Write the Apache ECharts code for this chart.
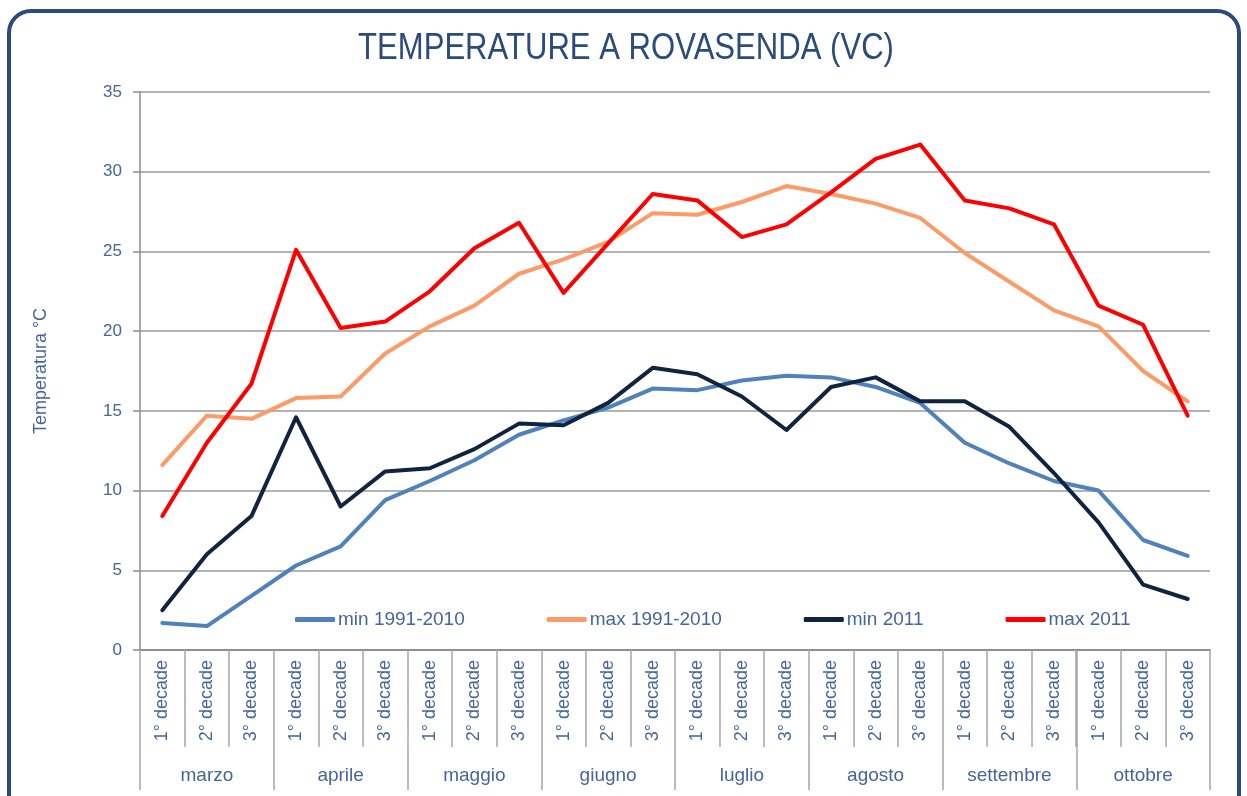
<!DOCTYPE html>
<html>
<head>
<meta charset="utf-8">
<script src="https://cdn.jsdelivr.net/npm/echarts@6/dist/echarts.min.js"></script>
<style>
  html, body { margin: 0; padding: 0; background: #fff; }
  #chart { position: absolute; left: 0; top: 0; width: 1247px; height: 796px; }
  #frame { position: absolute; left: 7px; top: 9px; width: 1226px; height: 820px;
           border: 4px solid #2b4b7c; border-radius: 24px; pointer-events: none; }
</style>
</head>
<body>
<div id="chart"></div>
<div id="frame"></div>
<script>
var chartTitle = 'TEMPERATURE A ROVASENDA (VC)';
var months = ['marzo', 'aprile', 'maggio', 'giugno', 'luglio', 'agosto', 'settembre', 'ottobre'];
var decades = ['1° decade', '2° decade', '3° decade'];

var minNorm = [1.7, 1.5, 3.4, 5.3, 6.5, 9.4, 10.6, 11.9, 13.5, 14.4, 15.2, 16.4,
               16.3, 16.9, 17.2, 17.1, 16.5, 15.5, 13.0, 11.7, 10.6, 10.0, 6.9, 5.9];
var maxNorm = [11.6, 14.7, 14.5, 15.8, 15.9, 18.6, 20.3, 21.6, 23.6, 24.5, 25.6, 27.4,
               27.3, 28.1, 29.1, 28.6, 28.0, 27.1, 24.9, 23.1, 21.3, 20.3, 17.5, 15.6];
var min2011 = [2.5, 6.0, 8.4, 14.6, 9.0, 11.2, 11.4, 12.6, 14.2, 14.1, 15.5, 17.7,
               17.3, 15.9, 13.8, 16.5, 17.1, 15.6, 15.6, 14.0, 11.1, 8.0, 4.1, 3.2];
var max2011 = [8.4, 13.0, 16.7, 25.1, 20.2, 20.6, 22.5, 25.2, 26.8, 22.4, 25.5, 28.6,
               28.2, 25.9, 26.7, 28.7, 30.8, 31.7, 28.2, 27.7, 26.7, 21.6, 20.4, 14.7];

var seriesNames = ['min 1991-2010', 'max 1991-2010', 'min 2011', 'max 2011'];
var seriesColors = ['#4f81bd', '#fa9b68', '#10243f', '#ff0000'];
var seriesData = [minNorm, maxNorm, min2011, max2011];

var categories = [];
for (var m = 0; m < months.length; m++) {
    for (var d = 0; d < decades.length; d++) {
        categories.push(decades[d]);
    }
}

var textColor = '#46659a';
var plain = '"Liberation Sans", "DejaVu Sans", sans-serif';

function buildSeries() {
    var serie = [];
    for (var i = 0; i < seriesNames.length; i++) {
        serie.push({
            name: seriesNames[i],
            type: 'line',
            xAxisIndex: 0,
            data: seriesData[i],
            symbol: 'none',
            lineStyle: { width: 4, color: seriesColors[i], cap: 'round', join: 'round' },
            itemStyle: { color: seriesColors[i] },
            z: 3 + i
        });
    }
    return serie;
}

var myChart = echarts.init(document.getElementById('chart'));

var option = {
    animation: false,
    graphic: [{
        type: 'text',
        x: 626,
        y: 49,
        scaleX: 0.84,
        style: {
            text: chartTitle,
            fontFamily: plain,
            fontSize: 37,
            fill: '#2b4b7c',
            textAlign: 'center',
            textVerticalAlign: 'middle'
        }
    }],
    legend: {
        data: seriesNames,
        left: 290,
        top: 605,
        icon: 'roundRect',
        itemWidth: 40,
        itemHeight: 5,
        itemGap: 82,
        textStyle: { fontFamily: plain, fontSize: 19, color: textColor, padding: [0, 0, 0, -2] }
    },
    grid: { left: 140, right: 37, top: 92, bottom: 146, containLabel: false },
    xAxis: [{
        type: 'category',
        data: categories,
        position: 'bottom',
        boundaryGap: true,
        axisLine: { show: true, lineStyle: { color: '#8c8c8c', width: 1.5 } },
        axisTick: { show: true, interval: 0, length: 97, lineStyle: { color: '#a6a6a6', width: 1.5 } },
        axisLabel: { interval: 0, rotate: 90, margin: 10, fontFamily: plain, fontSize: 18, color: textColor }
    }, {
        type: 'category',
        data: months,
        position: 'bottom',
        boundaryGap: true,
        axisLine: { show: true, lineStyle: { color: '#8c8c8c', width: 1.5 } },
        axisTick: { show: true, interval: 0, length: 140, lineStyle: { color: '#a6a6a6', width: 1.5 } },
        axisLabel: { interval: 0, margin: 116, fontFamily: plain, fontSize: 19, color: textColor }
    }],
    yAxis: {
        type: 'value',
        min: 0,
        max: 35,
        interval: 5,
        name: 'Temperatura °C',
        nameLocation: 'middle',
        nameGap: 90,
        nameTextStyle: { fontFamily: plain, fontSize: 18, color: textColor },
        axisLine: { show: true, lineStyle: { color: '#8c8c8c', width: 1.5 } },
        axisTick: { show: true, length: 7, lineStyle: { color: '#8c8c8c', width: 1.5 } },
        axisLabel: { margin: 18, fontFamily: plain, fontSize: 17, color: textColor },
        splitLine: { lineStyle: { color: '#9a9a9a', width: 1.5 } }
    },
    series: buildSeries()
};

myChart.setOption(option);
</script>
</body>
</html>
